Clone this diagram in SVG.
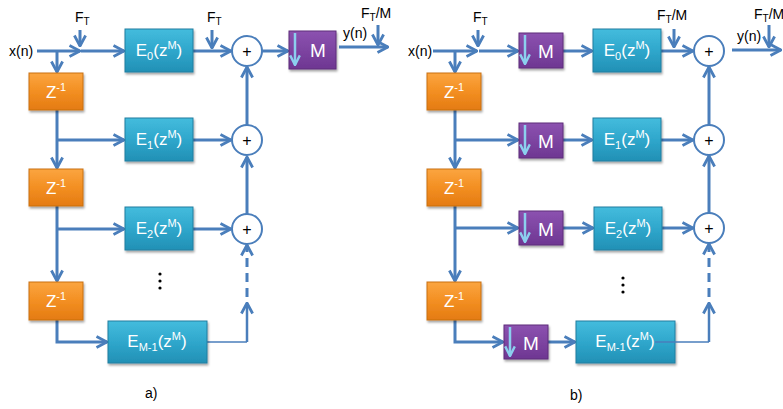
<svg xmlns="http://www.w3.org/2000/svg" width="783" height="409" viewBox="0 0 783 409">
<style>
.ln{stroke:#4A7EBB;stroke-width:3;fill:none}
.thin{stroke:#4A7EBB;stroke-width:1.5;fill:none}
.ar{marker-end:url(#ah)}
.dash{stroke-dasharray:9,6}
.sum{fill:#fff;stroke:#4A7EBB;stroke-width:2}
.pl{font-family:"Liberation Sans",Arial,sans-serif;font-size:16px;fill:#000;text-anchor:middle}
.lb{font-family:"Liberation Sans",Arial,sans-serif;font-size:14px;fill:#000}
.bt{font-family:"Liberation Sans",Arial,sans-serif;font-size:17px;fill:#fff;text-anchor:middle}
.e{fill:url(#gE);stroke:#1F7FA0;stroke-width:1;filter:url(#sh)}
.z{fill:url(#gZ);stroke:#C9700F;stroke-width:1;filter:url(#sh)}
.m{fill:url(#gM);stroke:#5E2E7A;stroke-width:1;filter:url(#sh)}
.da{stroke:#8CCFEE;stroke-width:2.5;fill:none;marker-end:url(#ahl)}
</style>
<defs>
<linearGradient id="gE" x1="0" y1="0" x2="0" y2="1"><stop offset="0" stop-color="#44BCDD"/><stop offset="0.5" stop-color="#2FA7CC"/><stop offset="1" stop-color="#2290B5"/></linearGradient>
<linearGradient id="gZ" x1="0" y1="0" x2="0" y2="1"><stop offset="0" stop-color="#FBA540"/><stop offset="0.5" stop-color="#F38F22"/><stop offset="1" stop-color="#E47B12"/></linearGradient>
<linearGradient id="gM" x1="0" y1="0" x2="0" y2="1"><stop offset="0" stop-color="#8C52B0"/><stop offset="1" stop-color="#6E3692"/></linearGradient>
<filter id="sh" x="-10%" y="-10%" width="130%" height="140%"><feDropShadow dx="1" dy="2" stdDeviation="1.2" flood-color="#000" flood-opacity="0.35"/></filter>
<marker id="ah" viewBox="0 0 10 10" refX="9" refY="5" markerWidth="14" markerHeight="14" markerUnits="userSpaceOnUse" orient="auto"><path d="M1.5,1 L9,5 L1.5,9" fill="none" stroke="#4A7EBB" stroke-width="2"/></marker>
<marker id="ahl" viewBox="0 0 10 10" refX="9" refY="5" markerWidth="12" markerHeight="12" markerUnits="userSpaceOnUse" orient="auto"><path d="M1,1 L9,5 L1,9" fill="none" stroke="#8CCFEE" stroke-width="2"/></marker>
</defs>

<g id="connectors">
<!-- panel a -->
<path class="ln ar" d="M37,51 H80"/>
<path class="ln ar" d="M80,30 V46"/>
<path class="ln ar" d="M81,51 H124"/>
<path class="ln ar" d="M193,51 H231"/>
<path class="ln ar" d="M212,30 V48"/>
<path class="ln ar" d="M262,51 H288"/>
<path class="ln ar" d="M339,47 H388"/>
<path class="ln ar" d="M378,25 V45"/>
<path class="ln ar" d="M57,51 V72"/>
<path class="ln ar" d="M57,110 V168"/>
<path class="ln ar" d="M57,140 H124"/>
<path class="ln ar" d="M193,140 H231"/>
<path class="ln ar" d="M57,206 V281"/>
<path class="ln ar" d="M57,229 H124"/>
<path class="ln ar" d="M193,229 H231"/>
<path class="ln ar" d="M57,320 V342 H107"/>
<path class="thin" d="M207,342 H247"/>
<path class="ln ar" d="M247,342 V303" style="stroke-width:2.5"/>
<path class="ln dash" d="M247,297 V252"/>
<path class="ln ar" d="M247,252 V245"/>
<path class="ln ar" d="M247,214 V157"/>
<path class="ln ar" d="M247,125 V67"/>
<!-- panel b -->
<path class="ln ar" d="M433,51 H477"/>
<path class="ln ar" d="M478,30 V46"/>
<path class="ln ar" d="M479,51 H518"/>
<path class="ln ar" d="M563,51 H592"/>
<path class="ln ar" d="M661,51 H693"/>
<path class="ln ar" d="M674,29 V47"/>
<path class="ln ar" d="M732,50 H781"/>
<path class="ln ar" d="M769,25 V47"/>
<path class="ln ar" d="M455,51 V72"/>
<path class="ln ar" d="M455,110 V168"/>
<path class="ln ar" d="M455,140 H518"/>
<path class="ln ar" d="M563,140 H592"/>
<path class="ln ar" d="M661,140 H693"/>
<path class="ln ar" d="M455,206 V281"/>
<path class="ln ar" d="M455,228 H518"/>
<path class="ln ar" d="M563,228 H593"/>
<path class="ln ar" d="M662,228 H693"/>
<path class="ln ar" d="M455,320 V342 H503"/>
<path class="ln ar" d="M548,342 H575"/>
<path class="ln ar" d="M709,342 V303" style="stroke-width:2.5"/>
<path class="ln dash" d="M709,297 V251"/>
<path class="ln ar" d="M709,251 V244"/>
<path class="ln ar" d="M709,213 V156"/>
<path class="ln ar" d="M709,125 V67"/>
</g>

<!-- labels -->
<g id="labels">
<text class="lb" x="9" y="56">x(n)</text>
<text class="lb" x="75" y="22">F<tspan dy="3" font-size="10">T</tspan></text>
<text class="lb" x="207" y="22">F<tspan dy="3" font-size="10">T</tspan></text>
<text class="lb" x="343" y="38">y(n)</text>
<text class="lb" x="361" y="18">F<tspan dy="3" font-size="10">T</tspan><tspan dy="-3">/M</tspan></text>
<text class="lb" x="408" y="56">x(n)</text>
<text class="lb" x="473" y="22">F<tspan dy="3" font-size="10">T</tspan></text>
<text class="lb" x="657" y="20">F<tspan dy="3" font-size="10">T</tspan><tspan dy="-3">/M</tspan></text>
<text class="lb" x="737" y="41">y(n)</text>
<text class="lb" x="754" y="19">F<tspan dy="3" font-size="10">T</tspan><tspan dy="-3">/M</tspan></text>
<text class="lb" x="145" y="398">a)</text>
<text class="lb" x="570" y="400">b)</text>
<g fill="#000"><circle cx="160" cy="274" r="1.6"/><circle cx="160" cy="281" r="1.6"/><circle cx="160" cy="288" r="1.6"/>
<circle cx="623" cy="278" r="1.6"/><circle cx="623" cy="285" r="1.6"/><circle cx="623" cy="292" r="1.6"/></g>
</g>

<!-- panel a nodes -->
<g id="a_Z1"><rect class="z" x="29" y="73" width="54" height="37"/><text class="bt" x="56" y="98">Z<tspan dy="-7" font-size="11">-1</tspan></text></g>
<g id="a_Z2"><rect class="z" x="29" y="169" width="54" height="37"/><text class="bt" x="56" y="194">Z<tspan dy="-7" font-size="11">-1</tspan></text></g>
<g id="a_Z3"><rect class="z" x="29" y="282" width="54" height="38"/><text class="bt" x="56" y="307">Z<tspan dy="-7" font-size="11">-1</tspan></text></g>
<g id="a_E0"><rect class="e" x="125" y="29" width="68" height="43"/><text class="bt" x="159" y="56">E<tspan dy="4" font-size="11">0</tspan><tspan dy="-4">(z</tspan><tspan dy="-7" font-size="11">M</tspan><tspan dy="7">)</tspan></text></g>
<g id="a_E1"><rect class="e" x="125" y="118" width="68" height="43"/><text class="bt" x="159" y="145">E<tspan dy="4" font-size="11">1</tspan><tspan dy="-4">(z</tspan><tspan dy="-7" font-size="11">M</tspan><tspan dy="7">)</tspan></text></g>
<g id="a_E2"><rect class="e" x="125" y="207" width="68" height="43"/><text class="bt" x="159" y="234">E<tspan dy="4" font-size="11">2</tspan><tspan dy="-4">(z</tspan><tspan dy="-7" font-size="11">M</tspan><tspan dy="7">)</tspan></text></g>
<g id="a_EM1"><rect class="e" x="108" y="321" width="99" height="42"/><text class="bt" x="157" y="347">E<tspan dy="4" font-size="11">M-1</tspan><tspan dy="-4">(z</tspan><tspan dy="-7" font-size="11">M</tspan><tspan dy="7">)</tspan></text></g>
<g id="a_S0"><circle class="sum" cx="247" cy="51" r="15"/><text class="pl" x="247" y="57">+</text></g>
<g id="a_S1"><circle class="sum" cx="247" cy="140" r="15"/><text class="pl" x="247" y="146">+</text></g>
<g id="a_S2"><circle class="sum" cx="247" cy="229" r="15"/><text class="pl" x="247" y="235">+</text></g>
<g id="a_M"><rect class="m" x="289" y="31" width="47" height="38"/><path class="da" d="M295,33 V65"/><text class="bt" x="318" y="57" style="font-size:19px">M</text></g>

<!-- panel b nodes -->
<g id="b_Z1"><rect class="z" x="427" y="73" width="54" height="37"/><text class="bt" x="454" y="98">Z<tspan dy="-7" font-size="11">-1</tspan></text></g>
<g id="b_Z2"><rect class="z" x="427" y="169" width="54" height="37"/><text class="bt" x="454" y="194">Z<tspan dy="-7" font-size="11">-1</tspan></text></g>
<g id="b_Z3"><rect class="z" x="427" y="282" width="54" height="38"/><text class="bt" x="454" y="307">Z<tspan dy="-7" font-size="11">-1</tspan></text></g>
<g id="b_M0"><rect class="m" x="519" y="33" width="44" height="35"/><path class="da" d="M525,35 V64"/><text class="bt" x="546" y="58" style="font-size:19px">M</text></g>
<g id="b_M1"><rect class="m" x="519" y="123" width="44" height="35"/><path class="da" d="M525,125 V154"/><text class="bt" x="546" y="148" style="font-size:19px">M</text></g>
<g id="b_M2"><rect class="m" x="519" y="211" width="44" height="34"/><path class="da" d="M525,213 V242"/><text class="bt" x="546" y="236" style="font-size:19px">M</text></g>
<g id="b_M3"><rect class="m" x="504" y="325" width="44" height="34"/><path class="da" d="M510,327 V356"/><text class="bt" x="531" y="350" style="font-size:19px">M</text></g>
<g id="b_E0"><rect class="e" x="593" y="29" width="68" height="43"/><text class="bt" x="627" y="56">E<tspan dy="4" font-size="11">0</tspan><tspan dy="-4">(z</tspan><tspan dy="-7" font-size="11">M</tspan><tspan dy="7">)</tspan></text></g>
<g id="b_E1"><rect class="e" x="593" y="118" width="68" height="43"/><text class="bt" x="627" y="145">E<tspan dy="4" font-size="11">1</tspan><tspan dy="-4">(z</tspan><tspan dy="-7" font-size="11">M</tspan><tspan dy="7">)</tspan></text></g>
<g id="b_E2"><rect class="e" x="594" y="207" width="68" height="43"/><text class="bt" x="628" y="234">E<tspan dy="4" font-size="11">2</tspan><tspan dy="-4">(z</tspan><tspan dy="-7" font-size="11">M</tspan><tspan dy="7">)</tspan></text></g>
<g id="b_EM1"><rect class="e" x="576" y="321" width="99" height="42"/><text class="bt" x="625" y="347">E<tspan dy="4" font-size="11">M-1</tspan><tspan dy="-4">(z</tspan><tspan dy="-7" font-size="11">M</tspan><tspan dy="7">)</tspan></text></g>
<g id="b_S0"><circle class="sum" cx="709" cy="51" r="15"/><text class="pl" x="709" y="57">+</text></g>
<g id="b_S1"><circle class="sum" cx="709" cy="140" r="15"/><text class="pl" x="709" y="146">+</text></g>
<g id="b_S2"><circle class="sum" cx="709" cy="228" r="15"/><text class="pl" x="709" y="234">+</text></g>
<path class="thin" d="M655,342 H709"/>
</svg>
